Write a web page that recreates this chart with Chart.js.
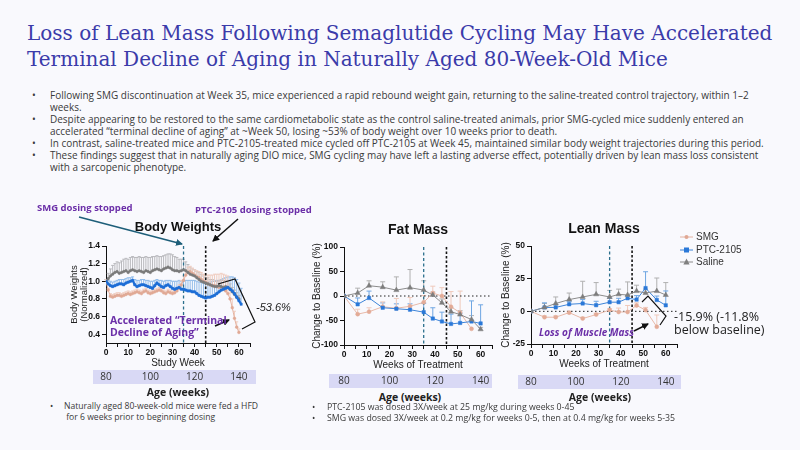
<!DOCTYPE html>
<html>
<head>
<meta charset="utf-8">
<script src="https://cdn.jsdelivr.net/npm/chart.js@4.4.1/dist/chart.umd.min.js"></script>
<style>
body{margin:0;width:800px;height:450px;overflow:hidden;position:relative;background:#f9f9fd;font-family:"Open Sans",sans-serif;color:#3a3a3a}
h1{position:absolute;left:27px;top:20px;margin:0;font-family:"DejaVu Serif","Liberation Serif","Noto Serif",serif;font-weight:normal;font-size:20px;line-height:26px;color:#3b3baa;white-space:nowrap}
ul{position:absolute;margin:0;padding:0;list-style:none;white-space:nowrap}
ul li{position:relative;padding-left:18px}
ul li:before{content:"•";position:absolute;left:0}
#notes{left:32px;top:89px;font-size:9.98px;line-height:12px}
#noteL{left:50px;top:401px;font-size:8.6px;line-height:11px}
#noteM{left:312px;top:402px;font-size:8.75px;line-height:11px}
canvas{position:absolute}
.age{position:absolute;font-weight:bold;font-size:10.5px;transform:translateX(-50%);color:#222;white-space:nowrap}
.pu{position:absolute;color:#6b2fa8;font-weight:bold;white-space:nowrap;z-index:3}
.note{position:absolute;white-space:nowrap;color:#222;z-index:3}
.lg{position:absolute;left:680px;font-family:"Liberation Sans",Arial,sans-serif;font-size:10px;color:#333;white-space:nowrap}
.lg svg{vertical-align:middle;margin-right:3px}
#ov{position:absolute;left:0;top:0;z-index:2;pointer-events:none}
</style>
</head>
<body>

<h1><span id="t1">Loss of Lean Mass Following Semaglutide Cycling May Have Accelerated</span><br>Terminal Decline of Aging in Naturally Aged 80-Week-Old Mice</h1>

<ul id="notes">
<li>Following SMG discontinuation at Week 35, mice experienced a rapid rebound weight gain, returning to the saline-treated control trajectory, within 1–2<br>weeks.</li>
<li>Despite appearing to be restored to the same cardiometabolic state as the control saline-treated animals, prior SMG-cycled mice suddenly entered an<br>accelerated “terminal decline of aging” at ~Week 50, losing ~53% of body weight over 10 weeks prior to death.</li>
<li>In contrast, saline-treated mice and PTC-2105-treated mice cycled off PTC-2105 at Week 45, maintained similar body weight trajectories during this period.</li>
<li>These findings suggest that in naturally aging DIO mice, SMG cycling may have left a lasting adverse effect, potentially driven by lean mass loss consistent<br>with a sarcopenic phenotype.</li>
</ul>

<canvas id="bwChart" width="207" height="186" style="left:58px;top:214px;width:207px;height:186px"></canvas>
<canvas id="fatChart" width="207" height="175" style="left:298px;top:214px;width:207px;height:175px"></canvas>
<canvas id="leanChart" width="203" height="176" style="left:488px;top:214px;width:203px;height:176px"></canvas>

<div class="age" style="left:410px;top:390px">Age (weeks)</div>
<div class="age" style="left:600px;top:390px">Age (weeks)</div>

<ul id="noteL"><li style="padding-left:14px">Naturally aged 80-week-old mice were fed a HFD<br>&nbsp;for 6 weeks prior to beginning dosing</li></ul>
<ul id="noteM"><li style="padding-left:15px">PTC-2105 was dosed 3X/week at 25 mg/kg during weeks 0-45</li><li style="padding-left:15px">SMG was dosed 3X/week at 0.2 mg/kg for weeks 0-5, then at 0.4 mg/kg for weeks 5-35</li></ul>

<div class="pu" style="left:37px;top:201px;font-size:9.5px">SMG dosing stopped</div>
<div class="pu" style="left:195px;top:203px;font-size:9.5px">PTC-2105 dosing stopped</div>
<div class="pu" style="left:110px;top:314px;font-size:10.5px;line-height:12px">Accelerated “Terminal<br>Decline of Aging”</div>
<div class="pu" style="left:539px;top:325px;font-size:10px;font-style:italic">Loss of Muscle Mass</div>
<div class="note" style="left:256px;top:301px;font-family:'Liberation Sans',Arial,sans-serif;font-style:italic;font-size:11px">-53.6%</div>
<div class="note" style="left:674px;top:310px;font-size:12.5px;line-height:13px">-15.9% (-11.8%<br>below baseline)</div>

<div class="lg" style="top:231px"><svg width="13" height="10"><line x1="0" y1="5" x2="13" y2="5" stroke="#e3b2a2" stroke-width="1"/><circle cx="6.5" cy="5" r="2" fill="#e0a894"/></svg>SMG</div>
<div class="lg" style="top:244px"><svg width="13" height="10"><line x1="0" y1="5" x2="13" y2="5" stroke="#3d84d8" stroke-width="1"/><rect x="4" y="2.5" width="5" height="5" fill="#2a78d8"/></svg>PTC-2105</div>
<div class="lg" style="top:256px"><svg width="13" height="10"><line x1="0" y1="5" x2="13" y2="5" stroke="#8a8a8a" stroke-width="1"/><polygon points="6.5,1.5 9.6,7.5 3.4,7.5" fill="#808080"/></svg>Saline</div>

<svg id="ov" width="800" height="450">
<defs>
<marker id="ht" markerWidth="7" markerHeight="7" refX="6" refY="3.5" orient="auto" markerUnits="userSpaceOnUse"><path d="M0,0 L7,3.5 L0,7 z" fill="#1d5e79"/></marker>
<marker id="hk" markerWidth="7" markerHeight="7" refX="6" refY="3.5" orient="auto" markerUnits="userSpaceOnUse"><path d="M0,0 L7,3.5 L0,7 z" fill="#111"/></marker>
</defs>
<line x1="79" y1="217" x2="182" y2="244" stroke="#1d5e79" stroke-width="1.6" marker-end="url(#ht)"/>
<line x1="238" y1="219" x2="213" y2="241" stroke="#111" stroke-width="1.5" marker-end="url(#hk)"/>
<line x1="215" y1="326" x2="229" y2="320" stroke="#111" stroke-width="1.5" marker-end="url(#hk)"/>
<polyline points="218,284 235,279 255,322 242,329" fill="none" stroke="#111" stroke-width="1.2"/>
<line x1="634" y1="331" x2="648" y2="324" stroke="#111" stroke-width="1.5" marker-end="url(#hk)"/>
<polyline points="642,302 648,296 666,316 660,325" fill="none" stroke="#111" stroke-width="1.2"/>
</svg>

<script>
/* ================================
   DATA
================================ */

// body weights, one value per study week (normalized)
const bwWeeks = [0,1,2,3,4,5,6,7,8,9,10,11,12,13,14,15,16,17,18,19,20,21,22,23,24,25,26,27,28,29,30,31,32,33,34,35,36,37,38,39,40,41,42,43,44,45,46,47,48,49,50,51,52,53,54,55,56,57,58,59,60,61]
const salineBW = [1.00,1.03,1.06,1.08,1.10,1.11,1.09,1.10,1.11,1.12,1.10,1.12,1.13,1.12,1.11,1.12,1.11,1.10,1.12,1.11,1.10,1.12,1.13,1.14,1.13,1.12,1.14,1.15,1.16,1.15,1.13,1.12,1.12,1.11,1.12,1.13,1.12,1.10,1.08,1.07,1.06,1.04,1.02,1.00,0.99,0.98,0.97,0.96,0.95,0.94,0.94,0.95,0.94,0.93,0.94,0.93,0.91,0.88,0.85,0.82,0.80,null]
const ptcBW = [1.00,0.97,0.95,0.94,0.95,0.96,0.97,0.97,0.96,0.98,0.99,1.00,1.01,0.96,0.94,0.95,0.96,0.96,0.95,0.94,0.93,0.92,0.95,0.98,0.96,0.94,0.93,0.95,0.96,0.94,0.92,0.91,0.92,0.93,0.91,0.91,0.90,0.89,0.89,0.88,0.88,0.86,0.84,0.83,0.82,0.81,0.82,0.82,0.83,0.84,0.86,0.88,0.90,0.91,0.92,0.93,0.91,0.89,0.86,0.82,0.78,0.74]
const smgBW = [1.00,0.90,0.83,0.82,0.83,0.84,0.84,0.83,0.84,0.85,0.86,0.85,0.86,0.87,0.88,0.87,0.86,0.88,0.89,0.87,0.86,0.87,0.88,0.89,0.90,0.89,0.87,0.86,0.88,0.87,0.86,0.87,0.89,0.92,0.96,1.01,1.07,1.10,1.11,1.09,1.07,1.05,1.04,1.02,1.00,0.99,0.97,0.96,0.95,0.95,0.94,0.93,0.93,0.91,0.89,0.86,0.80,0.70,0.58,0.48,0.42,null]
// upper error bars
const salineBWErr = [0.02,0.06,0.08,0.10,0.10,0.11,0.12,0.13,0.14,0.14,0.15,0.15,0.15,0.15,0.16,0.16,0.16,0.17,0.16,0.16,0.17,0.16,0.15,0.15,0.15,0.16,0.15,0.15,0.15,0.16,0.17,0.16,0.15,0.14,0.13,0.12,0.10,0.09,0.08,0.07,0.07,0.07,0.08,0.08,0.07,0.06,0.07,0.06,0.07,0.06,0.06,0.06,0.07,0.08,0.07,0.07,0.06,0.05,0.05,0.05,0.04,null]
const ptcBWErr = [0.02,0.04,0.05,0.05,0.05,0.05,0.05,0.05,0.06,0.05,0.05,0.04,0.04,0.06,0.07,0.06,0.06,0.06,0.06,0.07,0.07,0.08,0.06,0.04,0.05,0.07,0.07,0.06,0.05,0.07,0.08,0.09,0.08,0.08,0.09,0.10,0.11,0.12,0.12,0.13,0.13,0.14,0.15,0.16,0.16,0.17,0.17,0.17,0.17,0.16,0.15,0.13,0.12,0.12,0.12,0.12,0.14,0.16,0.18,0.20,0.20,0.18]
const smgBWErr = [0.02,0.02,0.03,0.03,0.03,0.03,0.03,0.03,0.03,0.03,0.03,0.03,0.03,0.03,0.03,0.03,0.03,0.03,0.03,0.03,0.03,0.03,0.03,0.03,0.03,0.03,0.03,0.03,0.03,0.03,0.03,0.03,0.04,0.04,0.05,0.05,0.06,0.06,0.06,0.06,0.06,0.07,0.07,0.08,0.08,0.09,0.10,0.11,0.12,0.13,0.14,0.15,0.16,0.17,0.18,0.20,0.12,0.10,0.08,0.06,0.04,null]

// EchoMRI time points, % change to baseline
const massWeeks = [0,6,11,17,23,29,35,39,43,47,51,56,60]
const smgFat = [0,-37,-32,-22,-25,-21,-13,6,0,-22,-34,-67,null]
const ptcFat = [0,-17,-4,-24,-26,-28,-33,-46,-52,-57,-55,-52,-56]
const salineFat = [0,6,21,18,12,17,12,2,-14,-32,-38,-48,-68]
const smgFatErr = [0,10,8,10,20,18,14,14,17,31,44,0,null]
const ptcFatErr = [0,13,14,10,10,12,18,22,19,20,20,42,38]
const salineFatErr = [0,10,10,11,27,37,19,6,8,8,8,8,4]

const smgLean = [0,-4.5,-4.5,-1,-5.5,-2.5,1,-0.5,-0.5,4.5,1,-11.8,null]
const ptcLean = [0,3,3,5.4,6,4.7,7,7,10,9,17.8,8.7,4.6]
const salineLean = [0,3,6,9,11,13,11,13,12.5,15.5,14,15.5,12.5]
const smgLeanErr = [0,1,1,1,1,1,1,3,5,2,2,9,null]
const ptcLeanErr = [0,3.5,2,2,3,3,3,3,2,3,12.5,3,11]
const salineLeanErr = [0,3,5,5,12,9,5,4,10,4.5,3,10,9.5]

// dosing stopped: SMG at week 35, PTC-2105 at week 45
const stopWeeks = [35,45]
const bwTicks = [0.4,0.6,0.8,1.0,1.2,1.4]
const fatTicks = [-100,-50,0,50,100]
const leanTicks = [-25,0,25,50]
// mice were 80 weeks old at week 0
const ageTicks = [80,100,120,140]

/* ================================
   PLUGINS
================================ */

const F = "'Liberation Sans', Arial, sans-serif"

// one-sided (upper) SEM bars, drawn under the lines
const errorBars = {
id:"errorBars",
beforeDatasetsDraw(chart){
const ctx = chart.ctx
const y = chart.scales.y
chart.data.datasets.forEach((ds,i)=>{
if(!ds.errUp) return
const meta = chart.getDatasetMeta(i)
ctx.save()
ctx.strokeStyle = ds.errColor
ctx.lineWidth = 1
meta.data.forEach((pt,j)=>{
const v = ds.data[j].y
const e = ds.errUp[j]
if(v==null || !e) return
const top = y.getPixelForValue(v+e)
ctx.beginPath()
ctx.moveTo(pt.x,pt.y)
ctx.lineTo(pt.x,top)
ctx.moveTo(pt.x-ds.capW,top)
ctx.lineTo(pt.x+ds.capW,top)
ctx.stroke()
})
ctx.restore()
})
}
}

// dosing-stop lines and zero line
const refLines = {
id:"refLines",
beforeDatasetsDraw(chart,args,opts){
const {ctx,chartArea:a,scales:{x,y}} = chart
ctx.save()
if(opts.zero){
ctx.strokeStyle = "#222"
ctx.lineWidth = 1
ctx.setLineDash([1.5,2.5])
const py = y.getPixelForValue(0)
ctx.beginPath()
ctx.moveTo(a.left,py)
ctx.lineTo(a.right,py)
ctx.stroke()
}
stopWeeks.forEach((w,i)=>{
const px = x.getPixelForValue(w)
ctx.strokeStyle = i===0 ? "#2b6f8c" : "#151515"
ctx.lineWidth = i===0 ? 1.3 : 1.6
ctx.setLineDash(i===0 ? [3,2.5] : [2.5,2])
ctx.beginPath()
ctx.moveTo(px,a.top)
ctx.lineTo(px,a.bottom)
ctx.stroke()
})
ctx.restore()
}
}

// lavender strip behind the age axis labels
const ageBand = {
id:"ageBand",
beforeDraw(chart,args,opts){
const s = chart.scales.age
const a = chart.chartArea
const ctx = chart.ctx
ctx.save()
ctx.fillStyle = "#d9d9f5"
ctx.fillRect(a.left-opts.left,s.top+1,a.right-a.left+opts.left+opts.right,14)
ctx.restore()
}
}

/* ================================
   HELPERS
================================ */

function series(label,weeks,vals,errs,o){
return {
label:label,
data:weeks.map((w,i)=>({x:w,y:vals[i]})),
errUp:errs,
errColor:o.err,
capW:o.cap,
borderColor:o.line,
backgroundColor:o.mark,
pointBorderColor:o.mark,
pointStyle:o.style,
pointRadius:o.r,
pointBorderWidth:0.5,
borderWidth:o.w,
spanGaps:false,
tension:0
}
}

function axes(o){
const tickFont = {family:F,size:8.5,weight:"bold"}
return {
x:{
type:"linear",min:0,max:65,weight:0,
ticks:{stepSize:5,autoSkip:false,maxRotation:0,color:"#111",font:tickFont,padding:1,
callback:v=>v%10===0 ? v : ""},
grid:{drawOnChartArea:false,color:"#111",tickLength:4,tickWidth:1},
border:{color:"#111",width:1},
title:{display:true,text:o.xTitle,color:"#222",font:{family:F,size:10},padding:{top:0,bottom:o.xtb}},
afterFit:s=>{s.height=o.xh}
},
age:{
axis:"x",type:"linear",position:"bottom",min:80,max:145,weight:1,
afterBuildTicks:s=>{s.ticks=ageTicks.map(v=>({value:v}))},
ticks:{color:"#333",font:{family:"'Open Sans', sans-serif",size:10},padding:2,maxRotation:0},
grid:{display:false,drawTicks:false},
border:{display:false},
title:{display:o.ageTitle,text:"Age (weeks)",color:"#222",font:{family:"'Open Sans', sans-serif",size:10.5,weight:"bold"},padding:{top:0,bottom:0.7}},
afterFit:s=>{s.height=o.ah}
},
y:{
type:"linear",min:o.ymin,max:o.ymax,
afterBuildTicks:s=>{s.ticks=o.yTicks.map(v=>({value:v}))},
ticks:{color:"#111",font:tickFont,padding:2,callback:o.yfmt},
grid:{drawOnChartArea:false,color:"#111",tickLength:4,tickWidth:1},
border:{color:"#111",width:1},
title:{display:true,text:o.yTitle,color:"#222",font:{family:F,size:o.ytSize,lineHeight:1.1},padding:{top:o.ytp,bottom:0}},
afterFit:s=>{s.width=o.yw}
}
}
}

function titleOpt(text,size,pt,pb){
return {display:true,text:text,fullSize:false,color:"#111",
font:{family:F,size:size,weight:"bold"},padding:{top:pt,bottom:pb}}
}

/* ================================
   BODY WEIGHTS
================================ */

new Chart(document.getElementById("bwChart"),{
type:"line",
data:{datasets:[
series("PTC-2105",bwWeeks,ptcBW,ptcBWErr,{line:"#1f6fd6",mark:"#1f6fd6",err:"#94bde9",cap:1.5,style:"rect",r:1.6,w:2.2}),
series("Saline",bwWeeks,salineBW,salineBWErr,{line:"#808080",mark:"#7a7a7a",err:"#b9b9bd",cap:1.5,style:"circle",r:1.3,w:1.6}),
series("SMG",bwWeeks,smgBW,smgBWErr,{line:"#e4b3a2",mark:"#e0a995",err:"#f0cdc0",cap:1.5,style:"circle",r:1.4,w:1})
]},
options:{
responsive:false,animation:false,
layout:{padding:{left:0,right:15,top:0,bottom:0}},
plugins:{legend:{display:false},tooltip:{enabled:false},
title:titleOpt("Body Weights",13,6,10.4),
refLines:{zero:false},
ageBand:{left:13,right:6}},
scales:axes({xTitle:"Study Week",xtb:0,xh:26,ah:31,ageTitle:true,ymin:0.3,ymax:1.4,yTicks:bwTicks,
yfmt:v=>v.toFixed(1),yTitle:["Body Weights","(Normalized)"],ytSize:9.5,ytp:11,yw:48})
},
plugins:[ageBand,errorBars,refLines]
})

/* ================================
   FAT MASS
================================ */

new Chart(document.getElementById("fatChart"),{
type:"line",
data:{datasets:[
series("Saline",massWeeks,salineFat,salineFatErr,{line:"#8c8c8c",mark:"#7d7d7d",err:"#b0b0b0",cap:2.5,style:"triangle",r:3,w:1}),
series("PTC-2105",massWeeks,ptcFat,ptcFatErr,{line:"#3d84d8",mark:"#2a78d8",err:"#6fa6e2",cap:2.5,style:"rect",r:2.4,w:1}),
series("SMG",massWeeks,smgFat,smgFatErr,{line:"#e8b9a8",mark:"#e3ab97",err:"#efc9bb",cap:2.5,style:"circle",r:2,w:1})
]},
options:{
responsive:false,animation:false,
layout:{padding:{left:0,right:13,top:0,bottom:0}},
plugins:{legend:{display:false},tooltip:{enabled:false},
title:titleOpt("Fat Mass",14,7.6,8.6),
refLines:{zero:true},
ageBand:{left:15,right:0}},
scales:axes({xTitle:"Weeks of Treatment",xtb:1.5,xh:28,ah:16,ageTitle:false,ymin:-100,ymax:100,yTicks:fatTicks,
yfmt:v=>v,yTitle:"Change to Baseline (%)",ytSize:10,ytp:14,yw:46})
},
plugins:[ageBand,errorBars,refLines]
})

/* ================================
   LEAN MASS
================================ */

new Chart(document.getElementById("leanChart"),{
type:"line",
data:{datasets:[
series("Saline",massWeeks,salineLean,salineLeanErr,{line:"#8c8c8c",mark:"#7d7d7d",err:"#b0b0b0",cap:2.5,style:"triangle",r:3,w:1}),
series("PTC-2105",massWeeks,ptcLean,ptcLeanErr,{line:"#3d84d8",mark:"#2a78d8",err:"#6fa6e2",cap:2.5,style:"rect",r:2.4,w:1}),
series("SMG",massWeeks,smgLean,smgLeanErr,{line:"#e8b9a8",mark:"#e3ab97",err:"#efc9bb",cap:2.5,style:"circle",r:2,w:1})
]},
options:{
responsive:false,animation:false,
layout:{padding:{left:0,right:14,top:0,bottom:0}},
plugins:{legend:{display:false},tooltip:{enabled:false},
title:titleOpt("Lean Mass",14,6.6,8.6),
refLines:{zero:true},
ageBand:{left:13,right:4}},
scales:axes({xTitle:"Weeks of Treatment",xtb:4,xh:30,ah:16,ageTitle:false,ymin:-25,ymax:50,yTicks:leanTicks,
yfmt:v=>v,yTitle:"Change to Baseline (%)",ytSize:10,ytp:13,yw:43})
},
plugins:[ageBand,errorBars,refLines]
})

/* fit title line to slide width */
const t1 = document.getElementById("t1")
const h1 = t1.parentNode
h1.style.fontSize = (20*746/t1.getBoundingClientRect().width)+"px"
</script>
</body>
</html>
